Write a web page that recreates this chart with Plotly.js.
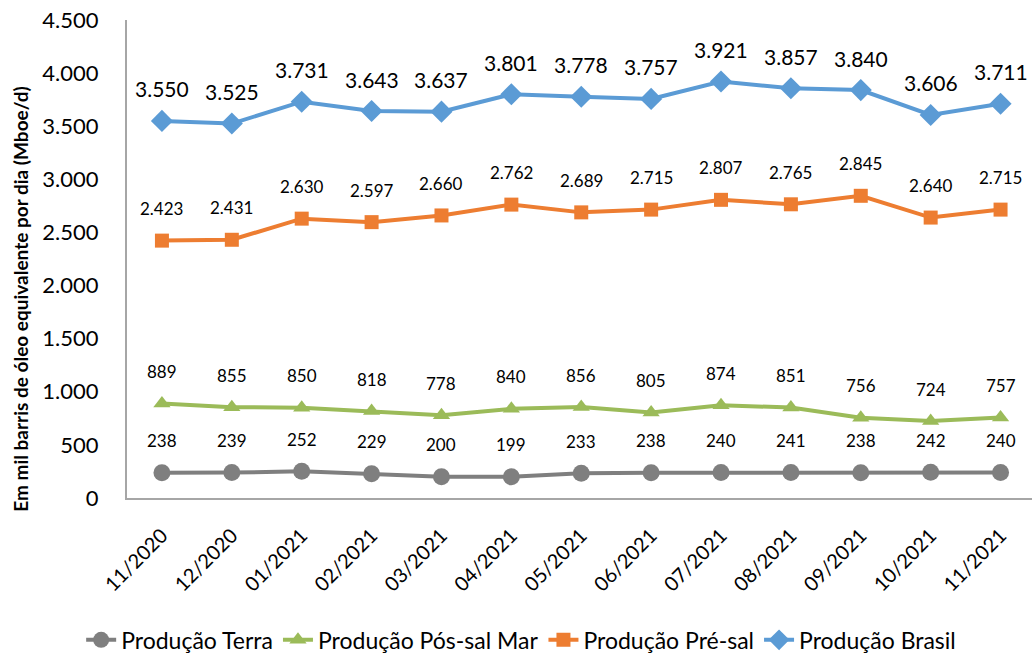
<!DOCTYPE html>
<html><head><meta charset="utf-8">
<script src="https://cdn.plot.ly/plotly-3.0.1.min.js"></script>
<style>html,body{margin:0;padding:0;background:#fff}#chart{width:1032px;height:659px}</style>
</head><body><div id="chart"></div>
<script>
const categories = ["11/2020","12/2020","01/2021","02/2021","03/2021","04/2021","05/2021","06/2021","07/2021","08/2021","09/2021","10/2021","11/2021"];
const terra = [238,239,252,229,200,199,233,238,240,241,238,242,240];
const posSalMar = [889,855,850,818,778,840,856,805,874,851,756,724,757];
const preSal = [2423,2431,2630,2597,2660,2762,2689,2715,2807,2765,2845,2640,2715];
const brasil = [3550,3525,3731,3643,3637,3801,3778,3757,3921,3857,3840,3606,3711];
const yTicks = [0,500,1000,1500,2000,2500,3000,3500,4000,4500];

function fmt(v){ return String(v).replace(/\B(?=(\d{3})+(?!\d))/g, "."); }
const FONT = "Lato, 'Noto Sans', sans-serif";

const series = [
  {name:"Produção Terra", y:terra, color:"#7f7f7f", symbol:"circle", size:17, lsize:17},
  {name:"Produção Pós-sal Mar", y:posSalMar, color:"#9bbb59", symbol:"triangle-up", size:15, lsize:17},
  {name:"Produção Pré-sal", y:preSal, color:"#ed7d31", symbol:"square", size:14, lsize:17},
  {name:"Produção Brasil", y:brasil, color:"#5b9bd5", symbol:"diamond", size:17, lsize:21}
];

const traces = series.map(s => ({
  type:"scatter", mode:"lines+markers", name:s.name, x:categories, y:s.y,
  line:{color:s.color, width:4}, marker:{color:s.color, symbol:s.symbol, size:s.size}
}));

const annotations = [];
series.forEach(s => {
  s.y.forEach((v,i) => annotations.push({
    x:categories[i], y:v, xref:"x", yref:"y", text:fmt(v), showarrow:false,
    yanchor:"middle", yshift:32, font:{family:FONT, size:s.lsize, color:"#000"}
  }));
});
annotations.push({
  xref:"paper", yref:"paper", x:-0.117, y:0.415, xanchor:"center", yanchor:"middle",
  text:"<b>Em mil barris de óleo equivalente por dia (Mboe/d)</b>", textangle:-90,
  showarrow:false, font:{family:FONT, size:19, color:"#000"}
});

const layout = {
  width:1032, height:659,
  margin:{l:127, r:0, t:20, b:161},
  paper_bgcolor:"#fff", plot_bgcolor:"#fff",
  showlegend:true,
  legend:{orientation:"h", x:0.505, xanchor:"center", xref:"container", y:0.029, yref:"container", yanchor:"middle",
    font:{family:FONT, size:23, color:"#000"}, tracegroupgap:0},
  xaxis:{type:"category", range:[-0.5,12.45], showgrid:false, zeroline:false,
    showline:true, linecolor:"#a6a6a6", linewidth:2, ticks:"", tickangle:-45,
    ticklabelstandoff:16, tickfont:{family:FONT, size:20, color:"#000"}, automargin:false},
  yaxis:{range:[0,4500], tickvals:yTicks, ticktext:yTicks.map(fmt), showgrid:false,
    zeroline:false, showline:true, linecolor:"#a6a6a6", linewidth:2, ticks:"",
    ticklabelstandoff:22, tickfont:{family:FONT, size:22, color:"#000"}, automargin:false},
  annotations:annotations
};

Plotly.newPlot("chart", traces, layout, {displayModeBar:false, staticPlot:true});
</script></body></html>
